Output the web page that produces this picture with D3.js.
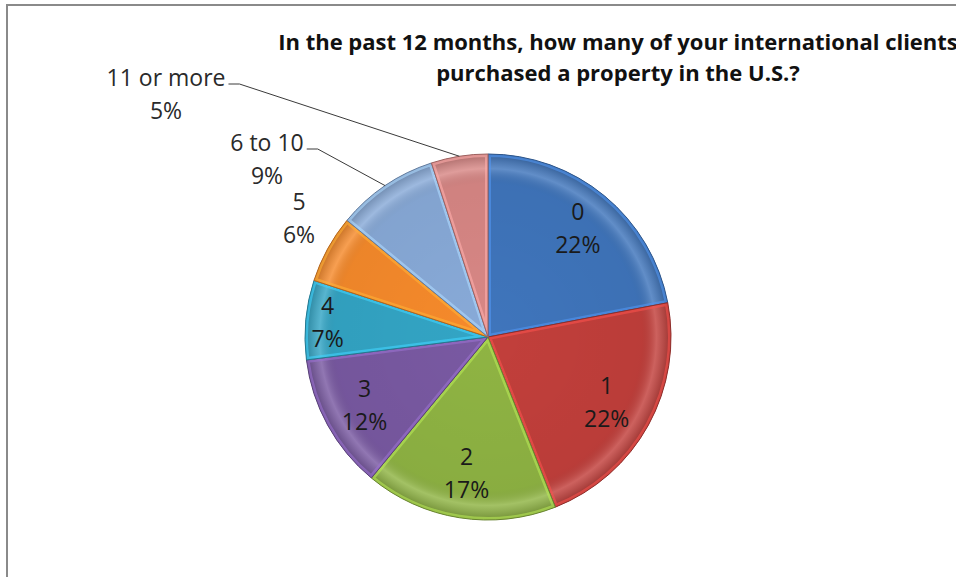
<!DOCTYPE html>
<html>
<head>
<meta charset="utf-8">
<script src="https://cdn.jsdelivr.net/npm/d3@7"></script>
<style>
  body { margin: 0; background: #fff; }
  svg text { font-family: "Open Sans", sans-serif; }
</style>
</head>
<body>
<div id="chart"></div>
<script>
// data
const categories = ["0", "1", "2", "3", "4", "5", "6 to 10", "11 or more"];
const shares = [22, 22, 17, 12, 7, 6, 9, 5];
const colors = ["#3f75bc", "#c23f3b", "#8fb443", "#7959a2", "#33a5c5", "#f68a2b", "#88aad8", "#d88785"];
const titleLines = ["In the past 12 months, how many of your international clients",
                    "purchased a property in the U.S.?"];

var width = 956,
    height = 577;

var svg = d3.select('#chart').append('svg')
    .attr('width', width)
    .attr('height', height);

// frame (only top and left edge visible)
svg.append("path")
    .attr("d", "M7,577 V5 H956")
    .attr("fill", "none")
    .attr("stroke", "#8a8a8a")
    .attr("stroke-width", 2);

// title
let title = svg.append("text")
    .attr("text-anchor", "middle")
    .attr("font-weight", "bold")
    .attr("font-size", 22)
    .attr("fill", "#111");
title.selectAll("tspan").data(titleLines).enter().append("tspan")
    .attr("x", 618)
    .attr("y", (d, i) => 50 + i * 31)
    .text(d => d);

let cx = 488, cy = 337, R = 183;
let g = svg.append("g").attr("transform", `translate(${cx},${cy})`);

let data = categories.map((c, i) => ({cat: c, value: shares[i], color: colors[i]}));

let pie = d3.pie().sort(null).value(d => d.value);
let arc = d3.arc().innerRadius(0).outerRadius(R);
let arcs = pie(data);

let defs = svg.append("defs");
let shade = defs.append("radialGradient")
    .attr("id", "shade")
    .attr("gradientUnits", "userSpaceOnUse")
    .attr("cx", 0).attr("cy", 0).attr("r", R);
shade.append("stop").attr("offset", "0%").attr("stop-color", "#000").attr("stop-opacity", 0.0);
shade.append("stop").attr("offset", "84%").attr("stop-color", "#000").attr("stop-opacity", 0.04);
shade.append("stop").attr("offset", "92%").attr("stop-color", "#fff").attr("stop-opacity", 0.18);
shade.append("stop").attr("offset", "100%").attr("stop-color", "#000").attr("stop-opacity", 0.2);

arcs.forEach((a, i) => {
    defs.append("clipPath").attr("id", "clip" + i)
        .append("path").attr("d", arc(a));
});

let slices = g.selectAll(".slice").data(arcs).enter().append("g").attr("class", "slice");
slices.append("path")
    .attr("d", arc)
    .attr("fill", d => d.data.color);
// bevel highlight along the edges
slices.append("path")
    .attr("d", arc)
    .attr("fill", "url(#shade)")
    .attr("stroke", d => d3.color(d.data.color).brighter(0.7))
    .attr("stroke-width", 6)
    .attr("stroke-opacity", 0.6)
    .attr("clip-path", (d, i) => `url(#clip${i})`);
slices.append("path")
    .attr("d", arc)
    .attr("fill", "none")
    .attr("stroke", d => d3.color(d.data.color).darker(0.9))
    .attr("stroke-width", 1);

// labels: inside ones sit on a ring, outside ones at fixed spots
let labelRing = {"0": 0.77, "1": 0.74, "2": 0.75, "3": 0.77, "4": 0.88};
let outside = {
    "5":          {x: 299, y: 210, leader: false},
    "6 to 10":    {x: 267, y: 151, leader: true},
    "11 or more": {x: 166, y: 86,  leader: true}
};

let labels = svg.append("g");
let edge = d3.arc().innerRadius(R).outerRadius(R);

arcs.forEach(a => {
    let cat = a.data.cat;
    let x, y, fill;
    if (labelRing[cat] != null) {
        let rr = R * labelRing[cat];
        let c = d3.arc().innerRadius(rr).outerRadius(rr).centroid(a);
        x = cx + c[0];
        y = cy + c[1] - 8;
        fill = "#1a1a1a";
    } else {
        x = outside[cat].x;
        y = outside[cat].y;
        fill = "#2a2a2a";
    }
    let t = labels.append("text")
        .attr("text-anchor", "middle")
        .attr("font-size", 23)
        .attr("fill", fill);
    t.append("tspan").attr("x", x).attr("y", y).text(cat);
    t.append("tspan").attr("x", x).attr("y", y + 33).text(a.data.value + "%");

    if (outside[cat] && outside[cat].leader) {
        let w = t.select("tspan").node().getComputedTextLength();
        let x0 = x + w / 2 + 3;
        let p = edge.centroid(a);
        labels.append("polyline")
            .attr("points", [[x0, y - 2], [x0 + 11, y - 2], [cx + p[0], cy + p[1]]].map(q => q.join(",")).join(" "))
            .attr("fill", "none")
            .attr("stroke", "#3a3a3a")
            .attr("stroke-width", 1);
    }
});
</script>
</body>
</html>
